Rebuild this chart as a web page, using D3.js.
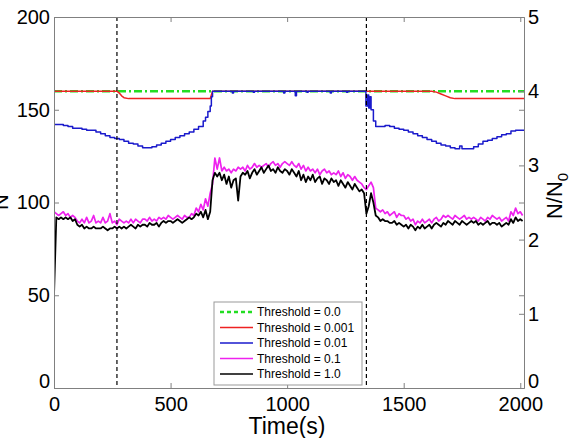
<!DOCTYPE html>
<html><head><meta charset="utf-8">
<script src="https://cdn.jsdelivr.net/npm/d3@7/dist/d3.min.js"></script>
<style>
html,body{margin:0;padding:0;background:#fff;}
svg{display:block;font-family:Arial,"Liberation Sans",Helvetica,sans-serif;}
</style></head>
<body>
<svg id="chart" width="583" height="438"></svg>
<script>
// ---------- data ----------
const xTicks = [0, 500, 1000, 1500, 2000];
const yLeftTicks = [0, 50, 100, 150, 200];
const yRightTicks = [0, 1, 2, 3, 4, 5];
const eventTimes = [270, 1340];
const seriesNames = ["Threshold = 0.0", "Threshold = 0.001", "Threshold = 0.01", "Threshold = 0.1", "Threshold = 1.0"];

// Threshold = 0.0 (constant)
const t00Time = [0, 2016];
const t00Vals = [160, 160];

// Threshold = 0.001
const t001Time = [0, 270, 280, 290, 300, 320, 670, 680, 1620, 1640, 1660, 1680, 1700, 1720, 2016];
const t001Vals = [160, 160, 159, 157.5, 156.5, 156, 156, 160, 160, 159.5, 158.5, 157.5, 156.5, 156, 156];

// Threshold = 0.01
const t01Time = [0, 20, 40, 60, 80, 100, 120, 140, 160, 180, 200, 220, 240, 260, 280, 300, 320, 340, 360, 380, 400, 420, 440, 460, 480, 500, 520, 540, 560, 580, 600, 620, 640, 650, 660, 670, 675, 680,
  700, 760, 765, 770, 850, 855, 860, 980, 985, 990, 1030, 1035, 1040, 1080, 1085, 1090, 1180, 1185, 1190, 1250, 1255, 1260, 1330,
  1338, 1345, 1350, 1355, 1360, 1370, 1380, 1400, 1420, 1440, 1460, 1480, 1500, 1520, 1540, 1560, 1580, 1600, 1620, 1640, 1660, 1680, 1700, 1720, 1740, 1750, 1780, 1800, 1820, 1840, 1860, 1880, 1900, 1920, 1940, 1960, 1980, 2000, 2016];
const t01Vals = [142, 142, 141.5, 141, 140, 140, 139.5, 139, 139, 138, 137, 136, 135, 134.5, 134, 133, 132, 131.5, 130.5, 129.5, 129.5, 130, 131, 132, 133, 134, 135, 136, 137, 138, 139.5, 141, 144, 146, 149, 152, 157, 160,
  160, 160, 159, 160, 160, 159.5, 160, 160, 159, 160, 160, 157.5, 160, 160, 159.5, 160, 160, 159, 160, 160, 159.5, 160, 160,
  152, 158, 151, 157, 150, 144, 141, 141, 141.5, 141, 140, 139.5, 139, 138, 137, 136, 135, 134, 133, 132, 131, 130.5, 129.5, 129, 130.5, 129, 129, 130, 131.5, 133, 133.5, 134.5, 135.5, 136.5, 137, 138.5, 139, 139, 139];

// Threshold = 0.1 and 1.0 sampled every 10 s, t = 0 .. 2010
const noisyStep = 10;
const t1Vals = [ // Threshold = 0.1 (magenta)
  95, 94, 93, 94, 95, 93, 94, 92, 93, 92,
  90, 89, 91, 89, 92, 89, 90, 93, 89, 90,
  89, 92, 89, 90, 94, 89, 90, 88, 91, 90,
  89, 90, 89, 91, 89, 91, 90, 89, 91, 91,
  90, 92, 90, 91, 90, 92, 91, 92, 91, 93,
  92, 91, 92, 93, 92, 91, 93, 92, 92, 94,
  93, 97, 95, 99, 96, 102, 98, 105, 110, 124,
  118, 124, 117, 119, 117, 118, 116, 118, 117, 119,
  118, 119, 117, 120, 118, 119, 121, 119, 120, 119,
  120, 121, 119, 121, 122, 120, 121, 119, 121, 122,
  121, 120, 122, 120, 119, 121, 118, 120, 117, 119,
  117, 118, 116, 118, 115, 117, 118, 116, 117, 115,
  116, 115, 117, 114, 116, 113, 115, 114, 112, 114,
  112, 111, 110, 108, 107, 109, 111, 108, 97, 96,
  95, 96, 94, 95, 93, 94, 95, 92, 94, 93,
  93, 91, 92, 90, 91, 88, 90, 89, 91, 89,
  90, 91, 89, 91, 92, 90, 91, 93, 92, 93,
  92, 91, 93, 92, 91, 92, 93, 91, 92, 91,
  92, 91, 90, 92, 91, 90, 92, 91, 93, 92,
  91, 92, 90, 91, 92, 90, 95, 93, 97, 94,
  95, 93];
const t10Vals = [ // Threshold = 1.0 (black)
  50, 92, 91, 92, 91, 92, 91, 92, 90, 91,
  88, 87, 88, 86, 87, 86, 86, 87, 86, 86,
  86, 87, 86, 85, 86, 86, 87, 86, 87, 86,
  87, 86, 87, 88, 87, 86, 88, 87, 88, 88,
  87, 89, 88, 88, 89, 87, 89, 90, 89, 90,
  90, 89, 90, 91, 90, 89, 90, 91, 92, 91,
  92, 94, 93, 95, 92, 96, 91, 95, 112, 116,
  114, 116, 112, 115, 110, 114, 108, 112, 113, 101,
  114, 116, 115, 117, 113, 116, 118, 115, 117, 119,
  116, 118, 120, 117, 118, 116, 119, 117, 116, 118,
  117, 115, 118, 116, 114, 117, 112, 115, 111, 114,
  112, 115, 111, 113, 114, 110, 113, 112, 110, 113,
  111, 112, 109, 112, 110, 108, 111, 109, 107, 110,
  108, 106, 107, 105, 94, 98, 105, 100, 93, 92,
  90, 91, 90, 90, 89, 89, 90, 88, 89, 88,
  87, 88, 86, 88, 87, 85, 87, 86, 88, 86,
  87, 88, 86, 88, 89, 88, 87, 89, 88, 90,
  89, 88, 90, 89, 88, 90, 89, 88, 89, 90,
  89, 90, 88, 89, 88, 89, 90, 88, 89, 89,
  88, 89, 87, 88, 89, 88, 91, 89, 92, 90,
  91, 90];

const colors = ["#22dd22", "#ee2222", "#1a1acc", "#ee22ee", "#000000"];

// ---------- chart ----------
const svg = d3.select("#chart");
const L = 54, R = 524, T = 17, B = 388;
const x = d3.scaleLinear().domain([0, 2016]).range([L, R]);
const yL = d3.scaleLinear().domain([0, 200]).range([B, T]);
const yR = d3.scaleLinear().domain([0, 5]).range([B, T]);

const plot = svg.append("g");
plot.append("defs").append("clipPath").attr("id", "clip")
  .append("rect").attr("x", L).attr("y", T).attr("width", R - L).attr("height", B - T);

const pts = (times, vals) => vals.map((v, i) => [times[i], v]);
const noisyTimes = t1Vals.map((_, i) => i * noisyStep);

const series = [
  {data: pts(t00Time, t00Vals), color: colors[0], width: 2.6, dash: "8,3,2,3", curve: d3.curveLinear},
  {data: pts(t001Time, t001Vals), color: colors[1], width: 1.5, dash: null, curve: d3.curveLinear},
  {data: pts(t01Time, t01Vals), color: colors[2], width: 1.5, dash: null, curve: d3.curveStepAfter},
  {data: pts(noisyTimes, t1Vals), color: colors[3], width: 1.7, dash: null, curve: d3.curveLinear},
  {data: pts(noisyTimes, t10Vals), color: colors[4], width: 1.8, dash: null, curve: d3.curveLinear}
];

const lines = plot.append("g").attr("clip-path", "url(#clip)");
series.forEach(s => {
  const line = d3.line().x(d => x(d[0])).y(d => yL(d[1])).curve(s.curve);
  lines.append("path").attr("d", line(s.data))
    .attr("fill", "none").attr("stroke", s.color).attr("stroke-width", s.width)
    .attr("stroke-linejoin", "round")
    .attr("stroke-dasharray", s.dash);
});

// vertical event lines
eventTimes.forEach(t => {
  plot.append("line").attr("x1", x(t)).attr("x2", x(t)).attr("y1", T).attr("y2", B)
    .attr("stroke", "#000").attr("stroke-width", 1.2).attr("stroke-dasharray", "4,3");
});

// axes
const axisColor = "#808080";
const styleAxis = g => {
  g.selectAll(".domain").attr("stroke", axisColor);
  g.selectAll(".tick line").attr("stroke", axisColor);
  g.selectAll(".tick text").attr("fill", "#000").attr("font-size", 20)
    .attr("font-family", "Arial, 'Liberation Sans', sans-serif");
};
svg.append("g").attr("transform", `translate(0,${B})`)
  .call(d3.axisBottom(x).tickValues(xTicks).tickFormat(d3.format("d")).tickSizeInner(-5).tickSizeOuter(0).tickPadding(9))
  .call(styleAxis);
svg.append("g").attr("transform", `translate(0,${T})`)
  .call(d3.axisTop(x).tickValues(xTicks).tickFormat("").tickSizeInner(-5).tickSizeOuter(0))
  .call(styleAxis);
const gL = svg.append("g").attr("transform", `translate(${L},0)`)
  .call(d3.axisLeft(yL).tickValues(yLeftTicks).tickFormat(d3.format("d")).tickSizeInner(-5).tickSizeOuter(0).tickPadding(4))
  .call(styleAxis);
svg.append("g").attr("transform", `translate(${R},0)`)
  .call(d3.axisRight(yL).tickValues(yLeftTicks).tickFormat("").tickSizeInner(-5).tickSizeOuter(0))
  .call(styleAxis);
const gR = svg.append("g").attr("transform", `translate(${R},0)`)
  .call(d3.axisRight(yR).tickValues(yRightTicks).tickFormat(d3.format("d")).tickSizeInner(-5).tickSizeOuter(0).tickPadding(4))
  .call(styleAxis);
// lift the bottom "0" labels slightly, as in the original
gL.selectAll(".tick text").filter(d => d === 0).attr("y", -7);
gR.selectAll(".tick text").filter(d => d === 0).attr("y", -7);

// axis titles
svg.append("text").attr("x", 287).attr("y", 434).attr("text-anchor", "middle")
  .attr("font-size", 23).text("Time(s)");
svg.append("text").attr("transform", "translate(8,202) rotate(-90)").attr("text-anchor", "middle")
  .attr("font-size", 22).text("N");
const rt = svg.append("text").attr("transform", "translate(562,196) rotate(-90)").attr("text-anchor", "middle")
  .attr("font-size", 22);
rt.append("tspan").text("N/N");
rt.append("tspan").attr("font-size", 15).attr("dy", 6).text("0");

// legend
const lg = svg.append("g");
lg.append("rect").attr("x", 214).attr("y", 302).attr("width", 148).attr("height", 83)
  .attr("fill", "#fff").attr("stroke", "#999").attr("stroke-width", 1);
seriesNames.forEach((name, i) => {
  const yy = 312 + i * 15.5;
  lg.append("line").attr("x1", 220).attr("x2", 253).attr("y1", yy).attr("y2", yy)
    .attr("stroke", colors[i]).attr("stroke-width", i === 0 ? 2.6 : 1.4)
    .attr("stroke-dasharray", i === 0 ? "4,3" : null);
  lg.append("text").attr("x", 257).attr("y", yy).attr("dy", "0.36em")
    .attr("font-size", 12).attr("fill", "#000").text(name);
});
</script>
</body></html>
